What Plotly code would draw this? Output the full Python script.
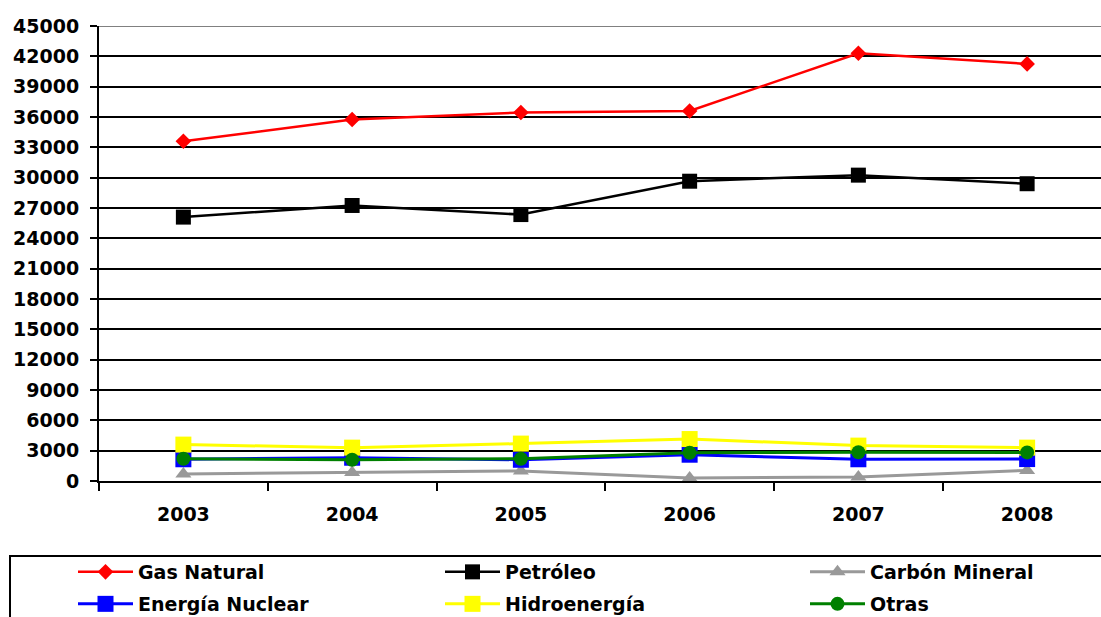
import plotly.graph_objects as go

years = ["2003", "2004", "2005", "2006", "2007", "2008"]
gas_natural = [33600, 35750, 36450, 36600, 42300, 41250]
petroleo = [26100, 27250, 26350, 29650, 30250, 29400]
carbon_mineral = [700, 830, 1000, 300, 400, 1050]
energia_nuclear = [2150, 2300, 2100, 2600, 2150, 2170]
hidroenergia = [3600, 3300, 3700, 4150, 3500, 3300]
otras = [2200, 2100, 2200, 2800, 2850, 2830]

y_ticks = list(range(0, 45001, 3000))
y_ticktext = [str(v) for v in y_ticks]

FONT = "DejaVu Sans, Verdana, sans-serif"

# name, values, colour, symbol, size, line width, legend id, legend pixel (x, y)
series = [
    ("Gas Natural", gas_natural, "#FF0000", "diamond", 12, 2.5, "legend", (73, 572)),
    ("Petróleo", petroleo, "#000000", "square", 15, 2.5, "legend2", (440, 572)),
    ("Carbón Mineral", carbon_mineral, "#999999", "triangle-up", 14, 3, "legend3", (805, 572)),
    ("Energía Nuclear", energia_nuclear, "#0000FF", "square", 16, 3, "legend4", (73, 604)),
    ("Hidroenergía", hidroenergia, "#FFFF00", "square", 16, 3, "legend5", (440, 604)),
    ("Otras", otras, "#008000", "circle", 14, 3, "legend6", (805, 604)),
]

W, H = 1101, 617
L, T, R, B = 99, 26, 0, 136
plot_w = W - L - R
plot_h = H - T - B
band_px = 168.75

fig = go.Figure()
legends = {}
for name, vals, color, sym, size, lw, leg, (lx, ly) in series:
    fig.add_trace(go.Scatter(
        x=years, y=vals, name=name, mode="lines+markers",
        line=dict(color=color, width=lw),
        marker=dict(symbol=sym, size=size, color=color, line=dict(width=0)),
        legend=leg,
    ))
    legends[leg] = dict(
        orientation="h", xref="container", yref="container",
        xanchor="left", yanchor="middle",
        x=lx / W, y=1 - ly / H,
        font=dict(family=FONT, size=19, color="black", weight="bold"),
        bgcolor="rgba(0,0,0,0)", borderwidth=0,
        itemwidth=55, itemclick=False, itemdoubleclick=False,
    )

fig.update_layout(
    width=W, height=H,
    margin=dict(l=L, r=R, t=T, b=B, autoexpand=False),
    paper_bgcolor="white", plot_bgcolor="white",
    showlegend=True,
    **legends,
    xaxis=dict(
        type="category", range=[-0.5, -0.5 + plot_w / band_px],
        showgrid=False, zeroline=False, automargin=False,
        showline=True, linecolor="black", linewidth=2,
        ticks="outside", ticklen=8, tickwidth=2, tickcolor="black",
        tickson="boundaries", ticklabelstandoff=15,
        tickfont=dict(family=FONT, size=19, color="black", weight="bold"),
    ),
    yaxis=dict(
        range=[0, 45000], tickvals=y_ticks, ticktext=y_ticktext,
        showgrid=True, gridcolor="black", gridwidth=2,
        zeroline=False, automargin=False,
        showline=True, linecolor="black", linewidth=2,
        ticks="outside", ticklen=7, tickwidth=2, tickcolor="black",
        ticklabelstandoff=7,
        tickfont=dict(family=FONT, size=19, color="black", weight="bold"),
    ),
    shapes=[
        dict(type="line", xref="paper", yref="y", x0=0, x1=1, y0=45000, y1=45000,
             line=dict(color="#808080", width=2), layer="above"),
        dict(type="rect", xref="paper", yref="paper",
             x0=(10 - L) / plot_w, x1=1.05, y0=-(556 - (T + plot_h)) / plot_h, y1=-0.6,
             line=dict(color="black", width=2), fillcolor="rgba(0,0,0,0)"),
    ],
)

fig.write_html(
    "out.html",
    config={"displayModeBar": False},
    post_script="document.body.style.margin='0';document.body.style.overflow='hidden';"
                "document.documentElement.style.overflow='hidden';",
)
